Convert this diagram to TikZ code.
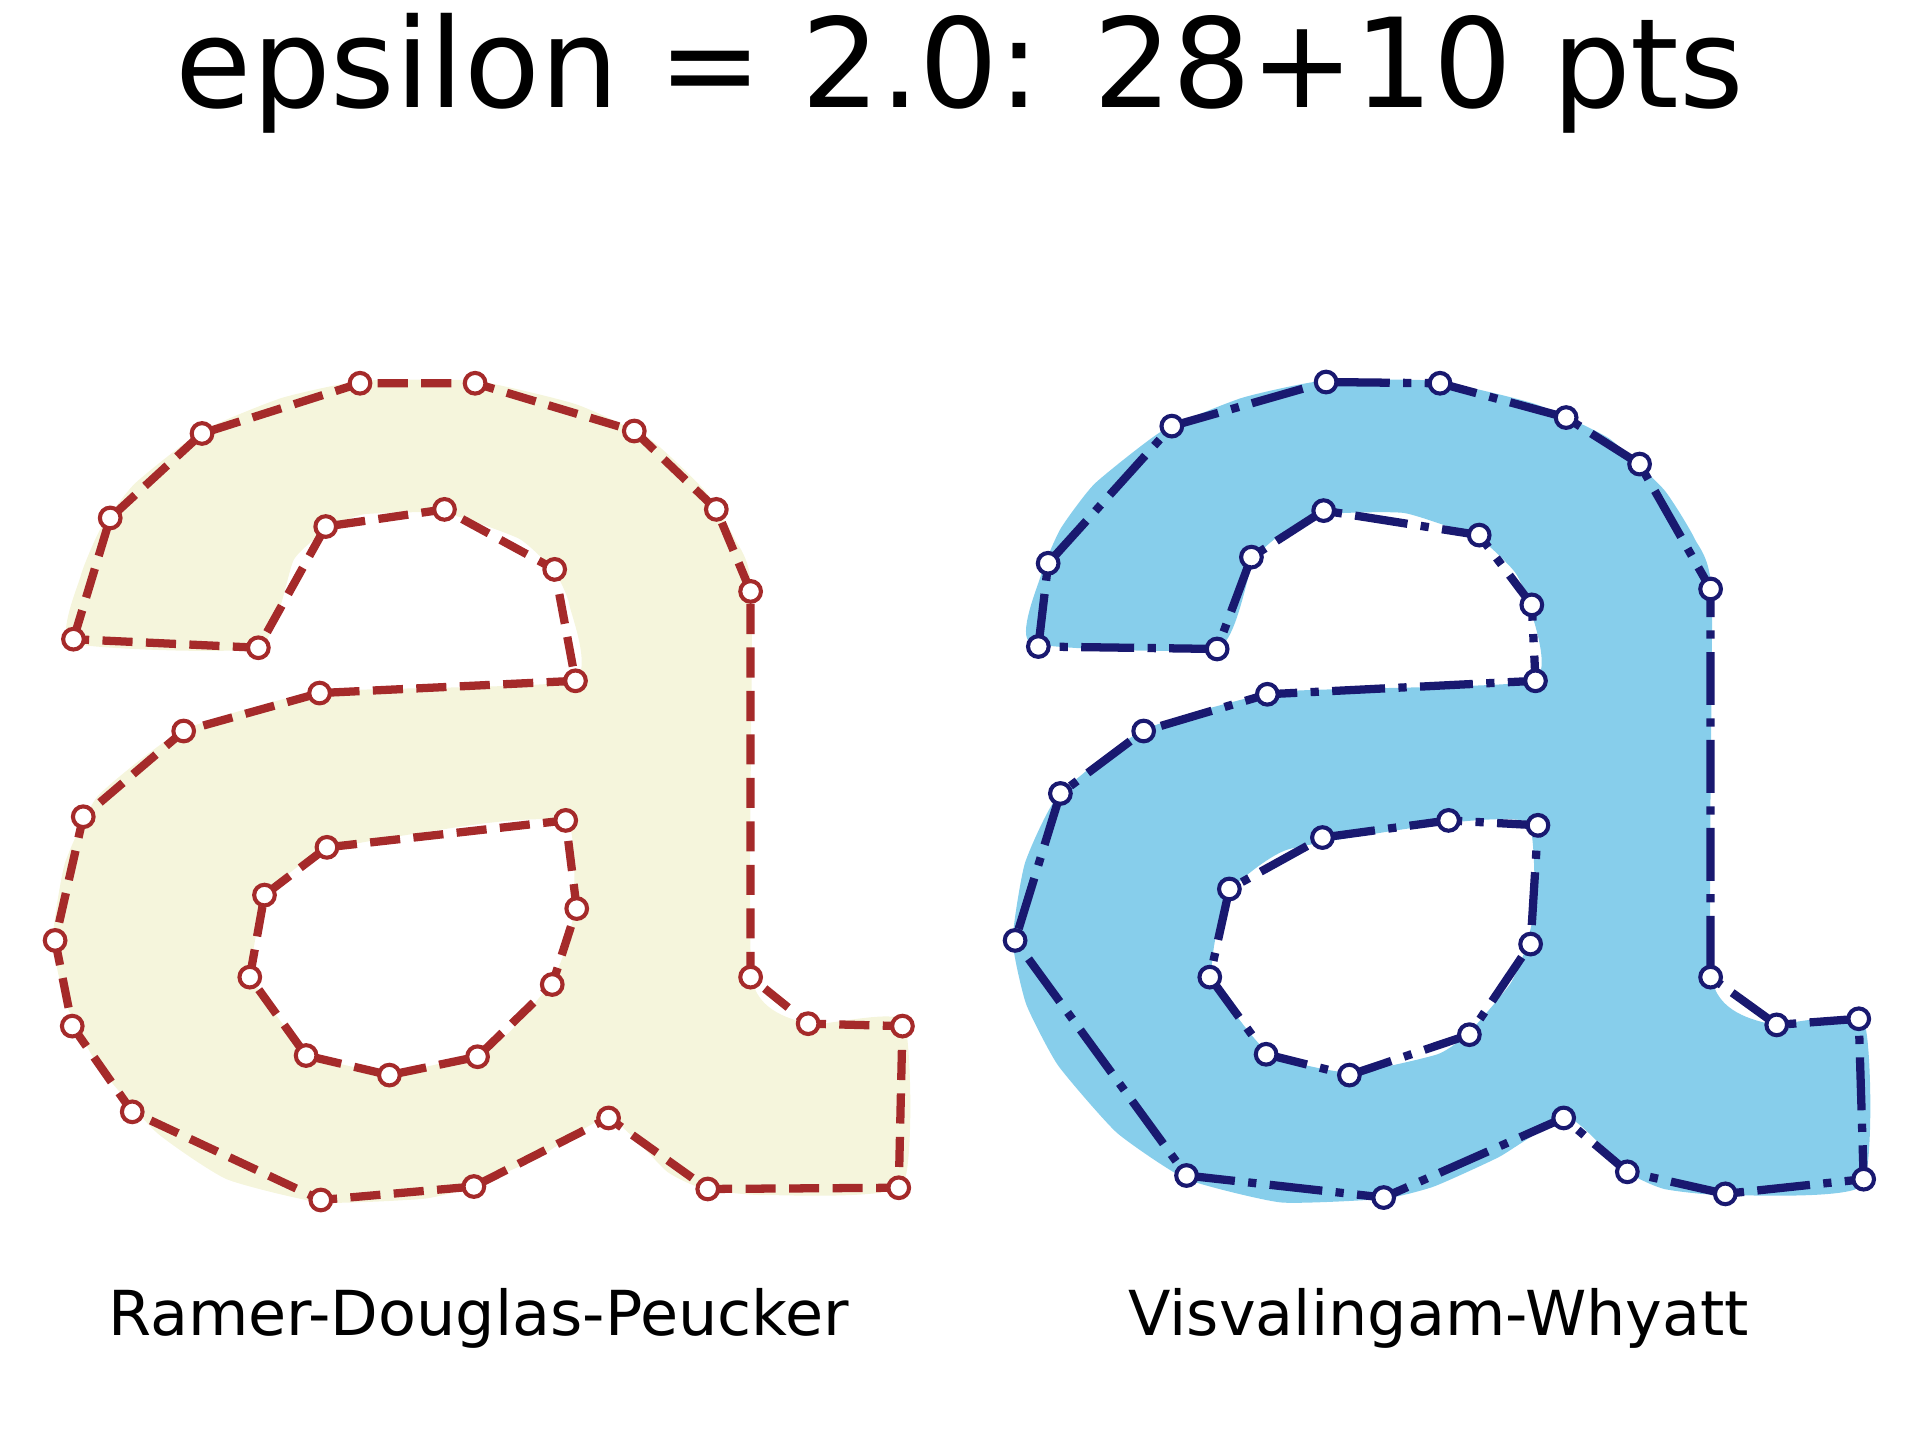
\documentclass[tikz,border=0pt]{standalone}
\usepackage{fontspec}
\setmainfont{DejaVu Sans}
\usepackage{tikz}
\definecolor{rdpcolor}{RGB}{165,42,42}
\definecolor{vwcolor}{RGB}{25,25,112}
\definecolor{rdpfill}{RGB}{245,245,220}
\definecolor{vwfill}{RGB}{135,206,235}
% glyph outline (left column coordinates)
\newcommand\glyphpath{plot[smooth cycle, tension=0.3] coordinates {(58,525) (66,470) (82,432) (110,395) (165,352) (230,325) (296,311) (388,311) (470,330) (530,358) (575,400) (600,440) (614,485) (614,798) (660,836) (738,834) (737,968) (625,976) (575,971) (545,957) (497,913) (440,945) (387,969) (346,979) (262,982) (185,963) (128,925) (80,870) (54,820) (43,768) (53,705) (80,650) (150,596) (261,565) (468,556) (465,494) (453,467) (424,440) (363,419) (297,420) (268,432) (240,457) (211,529)} plot[smooth cycle, tension=0.3] coordinates {(267,694) (399,672) (464,672) (469,742) (460,780) (449,804) (416,843) (390,861) (318,876) (252,860) (206,798) (218,731)}}
% simplified point lists
\newcommand\rdpOuter{60/522, 90/423, 165/354, 294/313, 388/313, 518/352, 585/416, 613/483, 613/798, 660/836, 737/838, 734/970, 578/971, 497/913, 387/969, 262/980, 108/908, 59/838, 45/768, 68/667, 150/597, 261/566, 470/556, 453/465, 363/416, 266/430, 211/529}
\newcommand\rdpInner{267/692, 462/670, 471/742, 451/804, 390/863, 318/878, 250/862, 204/798, 216/731}
\newcommand\vwOuter{848/528, 856/460, 957/348, 1083/312, 1176/313, 1279/341, 1339/379, 1397/481, 1397/798, 1451/837, 1518/832, 1522/963, 1409/975, 1329/957, 1277/913, 1130/978, 969/960, 829/768, 866/648, 934/597, 1035/567, 1254/556, 1251/494, 1208/437, 1081/417, 1022/455, 994/530}
\newcommand\vwInner{1080/684, 1183/670, 1256/674, 1250/771, 1200/845, 1102/878, 1034/861, 988/798, 1004/726}

\begin{document}
\begin{tikzpicture}[x=0.01cm, y=-0.01cm,
    rdpline/.style={draw=rdpcolor, line width=1.92pt, dash pattern=on 7pt off 3.1pt, line join=round},
    vwline/.style={draw=vwcolor, line width=1.92pt, dash pattern=on 12.3pt off 3.1pt on 1.92pt off 3.1pt, line join=round},
    rdpmark/.style={circle, draw=rdpcolor, fill=white, line width=0.95pt, inner sep=0pt, minimum size=4.8pt},
    vwmark/.style={circle, draw=vwcolor, fill=white, line width=0.95pt, inner sep=0pt, minimum size=4.8pt},
    every node/.style={font=\fontsize{14.4}{17}\selectfont}]
    \useasboundingbox (0,0) rectangle (1568,1176);
    % Title
    \node[anchor=base, font=\fontsize{28.8}{34}\selectfont] (title) at (784,88) {epsilon = 2.0: 28+10 pts};
    % Glyph fills
    \fill[rdpfill, even odd rule] \glyphpath;
    \fill[vwfill, even odd rule, shift={(784,0)}] \glyphpath;
    % Named vertices
    \foreach \x/\y [count=\i] in \rdpOuter { \coordinate (ro\i) at (\x,\y); }
    \foreach \x/\y [count=\i] in \rdpInner { \coordinate (ri\i) at (\x,\y); }
    \foreach \x/\y [count=\i] in \vwOuter { \coordinate (vo\i) at (\x,\y); }
    \foreach \x/\y [count=\i] in \vwInner { \coordinate (vi\i) at (\x,\y); }
    % Simplified polygons
    \draw[rdpline] (ro1) \foreach \i in {2,...,27} { -- (ro\i) } -- cycle;
    \draw[rdpline] (ri1) \foreach \i in {2,...,9} { -- (ri\i) } -- cycle;
    \draw[vwline] (vo1) \foreach \i in {2,...,27} { -- (vo\i) } -- cycle;
    \draw[vwline] (vi1) \foreach \i in {2,...,9} { -- (vi\i) } -- cycle;
    % Markers
    \foreach \i in {1,...,27} {
      \node[rdpmark] (rmo\i) at (ro\i) {};
      \node[vwmark] (vmo\i) at (vo\i) {};
    }
    \foreach \i in {1,...,9} {
      \node[rdpmark] (rmi\i) at (ri\i) {};
      \node[vwmark] (vmi\i) at (vi\i) {};
    }
    % Column labels
    \node[anchor=base] (rdplabel) at (391,1091) {Ramer-Douglas-Peucker};
    \node[anchor=base] (vwlabel) at (1175,1091) {Visvalingam-Whyatt};
\end{tikzpicture}
\end{document}
